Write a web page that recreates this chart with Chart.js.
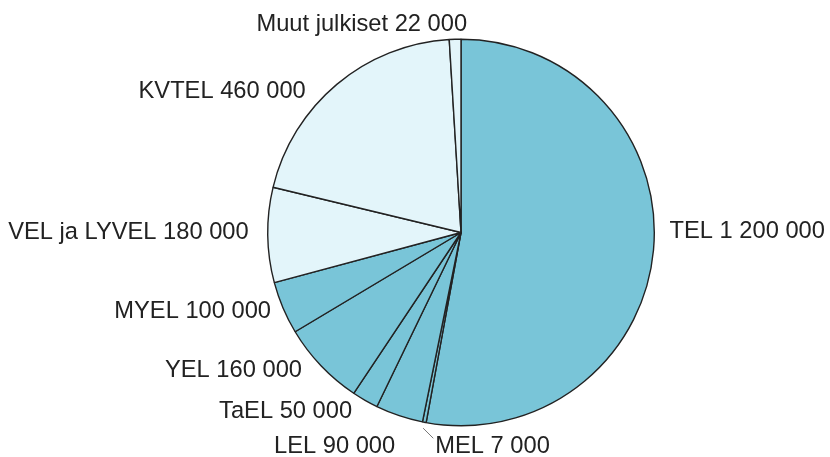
<!DOCTYPE html>
<html>
<head>
<meta charset="utf-8">
<script src="https://cdn.jsdelivr.net/npm/chart.js@4/dist/chart.umd.min.js"></script>
<style>
  html, body { margin: 0; padding: 0; background: #fff; }
  #wrap { width: 830px; height: 457px; }
</style>
</head>
<body>
<div id="wrap"><canvas id="pie"></canvas></div>
<script>
// data - eläkelait
const names = ['TEL', 'MEL', 'LEL', 'TaEL', 'YEL', 'MYEL', 'VEL ja LYVEL', 'KVTEL', 'Muut julkiset'];
const values = [1200000, 7000, 90000, 50000, 160000, 100000, 180000, 460000, 22000];
const valueTexts = ['1 200 000', '7 000', '90 000', '50 000', '160 000', '100 000', '180 000', '460 000', '22 000'];

const BLUE = '#79c5d8';
const LIGHT = '#e3f5fa';
const sliceColors = [BLUE, BLUE, BLUE, BLUE, BLUE, BLUE, LIGHT, LIGHT, LIGHT];

// label placement: offset from the slice's outer mid point, and alignment
const labelPlace = [
  { dx: 16, dy: -19, align: 'left' },
  { dx: 11, dy: 24, align: 'left', leader: true },
  { dx: -4, dy: 31, align: 'right' },
  { dx: -13, dy: 11, align: 'right' },
  { dx: -19, dy: 5, align: 'right' },
  { dx: -12, dy: 4, align: 'right' },
  { dx: -19, dy: -3, align: 'right' },
  { dx: -31, dy: 7, align: 'right' },
  { dx: 12, dy: -15, align: 'right' }
];

// draw labels outside the pie
const outsideLabels = {
  id: 'outsideLabels',
  afterDatasetsDraw(chart) {
    const { ctx } = chart;
    const meta = chart.getDatasetMeta(0);
    ctx.save();
    ctx.font = '23.7px "Liberation Sans", Arial, sans-serif';
    ctx.fillStyle = '#222';
    ctx.textBaseline = 'middle';
    meta.data.forEach((arc, i) => {
      const mid = (arc.startAngle + arc.endAngle) / 2;
      const r = arc.outerRadius;
      const px = arc.x + Math.cos(mid) * r;
      const py = arc.y + Math.sin(mid) * r;
      const place = labelPlace[i];
      const tx = px + place.dx;
      const ty = py + place.dy;
      if (place.leader) {
        ctx.strokeStyle = '#777';
        ctx.lineWidth = 1;
        ctx.beginPath();
        ctx.moveTo(arc.x + Math.cos(mid) * (r + 6), arc.y + Math.sin(mid) * (r + 6));
        ctx.lineTo(tx - 2, ty - 8);
        ctx.stroke();
      }
      ctx.textAlign = place.align;
      ctx.fillText(names[i] + ' ' + valueTexts[i], tx, ty);
    });
    ctx.restore();
  }
};

new Chart(document.getElementById('pie'), {
  type: 'pie',
  data: {
    labels: names,
    datasets: [{
      data: values,
      backgroundColor: sliceColors,
      borderColor: '#222',
      borderWidth: 1.4
    }]
  },
  options: {
    responsive: true,
    maintainAspectRatio: false,
    animation: false,
    layout: { padding: { left: 267, right: 175, top: 38, bottom: 30 } },
    plugins: {
      legend: { display: false },
      tooltip: { enabled: false }
    }
  },
  plugins: [outsideLabels]
});
</script>
</body>
</html>
